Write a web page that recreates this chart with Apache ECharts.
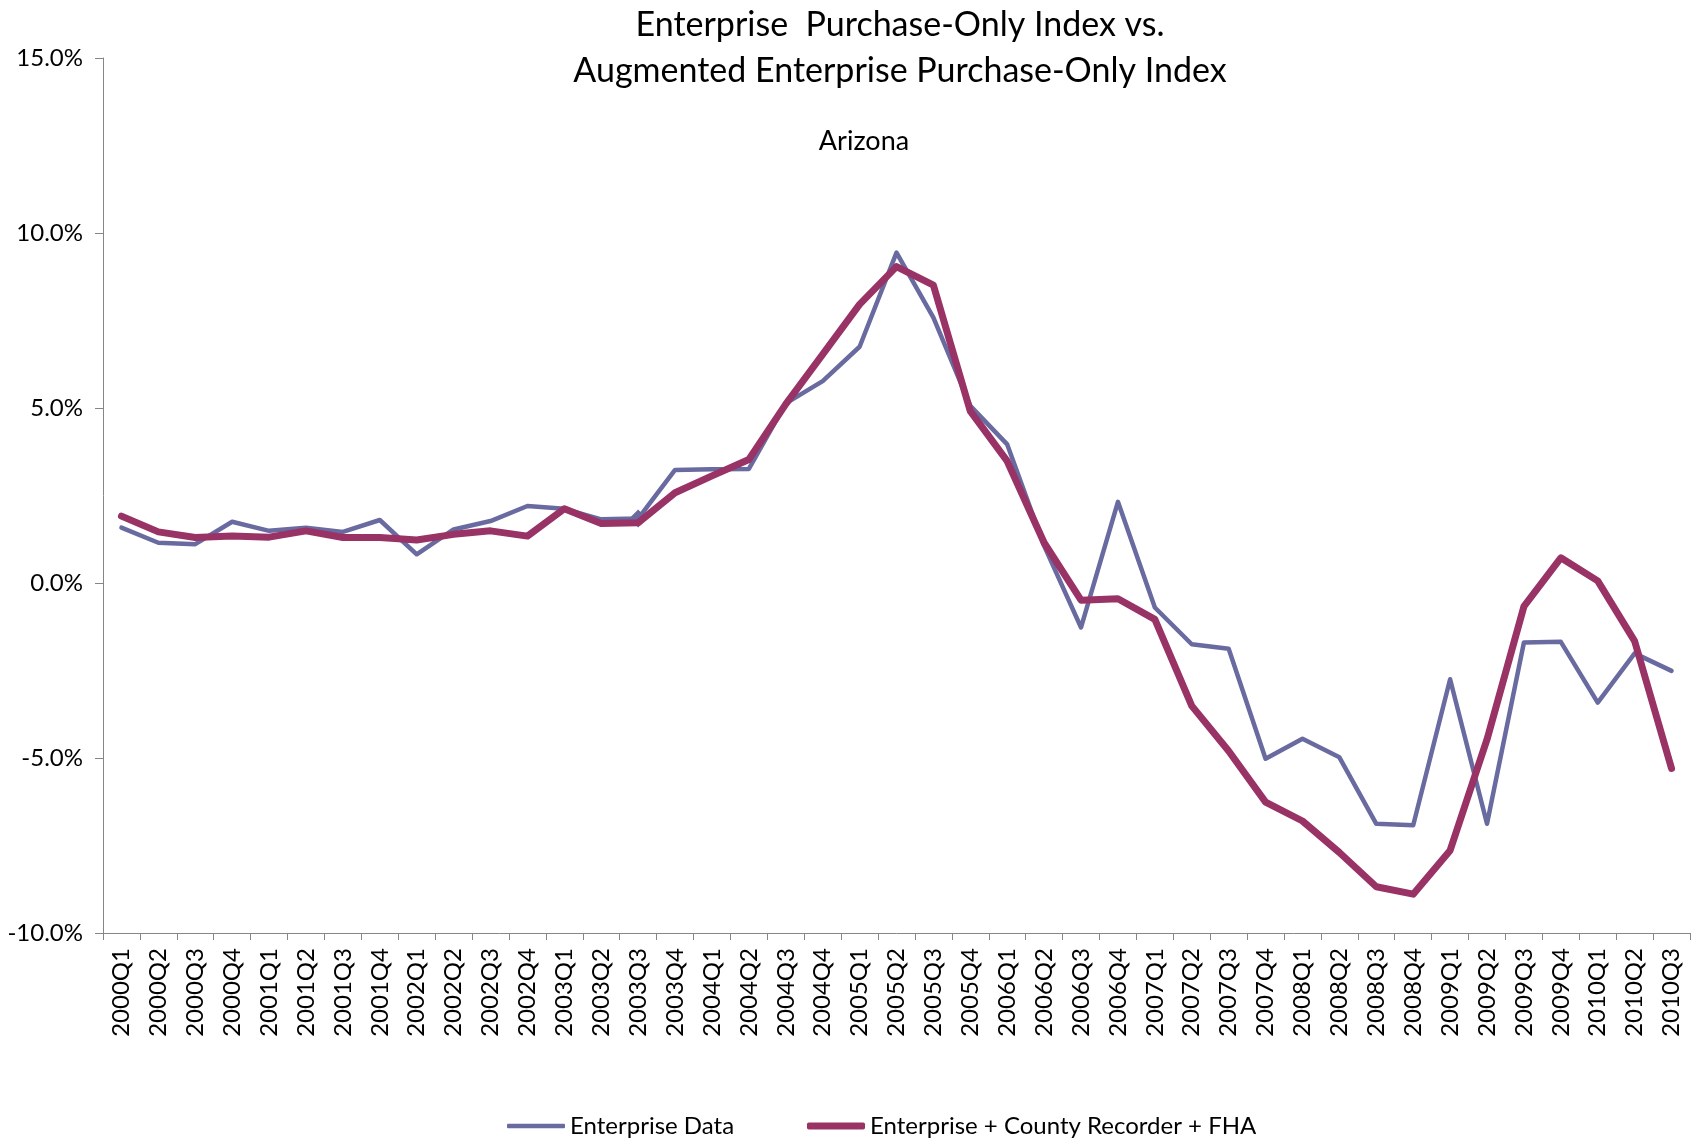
<!DOCTYPE html>
<html>
<head>
<meta charset="utf-8">
<script src="https://cdn.jsdelivr.net/npm/echarts@6/dist/echarts.min.js"></script>
<style>
html,body{margin:0;padding:0;background:#fff;}
#chart{width:1691px;height:1143px;}
</style>
</head>
<body>
<div id="chart"></div>
<script>
const quarters = ["2000Q1","2000Q2","2000Q3","2000Q4","2001Q1","2001Q2","2001Q3","2001Q4","2002Q1","2002Q2","2002Q3","2002Q4","2003Q1","2003Q2","2003Q3","2003Q4","2004Q1","2004Q2","2004Q3","2004Q4","2005Q1","2005Q2","2005Q3","2005Q4","2006Q1","2006Q2","2006Q3","2006Q4","2007Q1","2007Q2","2007Q3","2007Q4","2008Q1","2008Q2","2008Q3","2008Q4","2009Q1","2009Q2","2009Q3","2009Q4","2010Q1","2010Q2","2010Q3"];
const enterpriseData = [1.58,1.15,1.11,1.75,1.49,1.58,1.46,1.80,0.82,1.53,1.77,2.20,2.12,1.82,1.84,3.23,3.25,3.26,5.13,5.77,6.75,9.44,7.58,5.06,3.96,1.06,-1.27,2.32,-0.70,-1.75,-1.88,-5.02,-4.45,-4.98,-6.88,-6.92,-2.75,-6.88,-1.70,-1.68,-3.42,-2.01,-2.51];
const augmentedData = [1.91,1.46,1.30,1.34,1.31,1.49,1.30,1.30,1.23,1.39,1.49,1.34,2.12,1.70,1.72,2.58,3.06,3.53,5.11,6.53,7.96,9.04,8.51,4.91,3.48,1.15,-0.49,-0.45,-1.04,-3.51,-4.80,-6.26,-6.80,-7.70,-8.68,-8.89,-7.64,-4.47,-0.67,0.72,0.06,-1.66,-5.30];
const seriesNames = ["Enterprise Data","Enterprise + County Recorder + FHA"];
const titleLines = ["Enterprise  Purchase-Only Index vs.","Augmented Enterprise Purchase-Only Index"];
const subtitleText = "Arizona";
const yMin = -10, yMax = 15, yStep = 5;
const markedIndex = 14;

const FONT = "Lato";
const BLUE = '#686aa0', RED = '#993366';
const chart = echarts.init(document.getElementById('chart'), null, {renderer:'canvas'});
const blueData = enterpriseData.map((v,i)=> i===markedIndex ? {value:v, symbol:'diamond', symbolSize:18} : {value:v, symbol:'none'});
const legendText = {fontFamily:FONT, fontSize:24, color:'#000'};
chart.setOption({
  animation:false,
  backgroundColor:'#ffffff',
  title:[
    {text:titleLines.join('\n'), left:895, top:-3, textAlign:'center',
     textStyle:{fontFamily:FONT, fontSize:34, fontWeight:'normal', color:'#000', lineHeight:46}},
    {text:subtitleText, left:859, top:123, textAlign:'center',
     textStyle:{fontFamily:FONT, fontSize:27, fontWeight:'normal', color:'#000'}}
  ],
  legend:[
    {left:502, top:1109, itemWidth:58, itemHeight:4.5, icon:'roundRect',
     textStyle:legendText, data:[{name:seriesNames[0], itemStyle:{color:BLUE}}]},
    {left:802, top:1109, itemWidth:58, itemHeight:7, icon:'roundRect',
     textStyle:legendText, data:[{name:seriesNames[1], itemStyle:{color:RED}}]}
  ],
  grid:{left:103, right:1, top:58, bottom:210, containLabel:false},
  xAxis:{
    type:'category', data:quarters, boundaryGap:true,
    axisLine:{onZero:false, lineStyle:{color:'#868686', width:1}},
    axisTick:{show:true, alignWithLabel:false, length:7, lineStyle:{color:'#868686'}},
    axisLabel:{rotate:90, interval:0, margin:15, fontFamily:FONT, fontSize:24, color:'#000'},
    splitLine:{show:false}
  },
  yAxis:{
    type:'value', min:yMin, max:yMax, interval:yStep,
    axisLine:{show:true, lineStyle:{color:'#868686', width:1}},
    axisTick:{show:true, length:8, lineStyle:{color:'#868686'}},
    axisLabel:{margin:20, fontFamily:FONT, fontSize:24, color:'#000', formatter:v=>v.toFixed(1)+'%'},
    splitLine:{show:false}
  },
  series:[
    {name:seriesNames[0], type:'line', data:blueData, symbol:'none', showSymbol:true,
     itemStyle:{color:BLUE},
     lineStyle:{color:BLUE, width:4.5, cap:'round', join:'round'}, z:2},
    {name:seriesNames[1], type:'line', data:augmentedData, symbol:'none', showSymbol:false,
     itemStyle:{color:RED},
     lineStyle:{color:RED, width:7, cap:'round', join:'round'}, z:3}
  ]
});
</script>
</body>
</html>
